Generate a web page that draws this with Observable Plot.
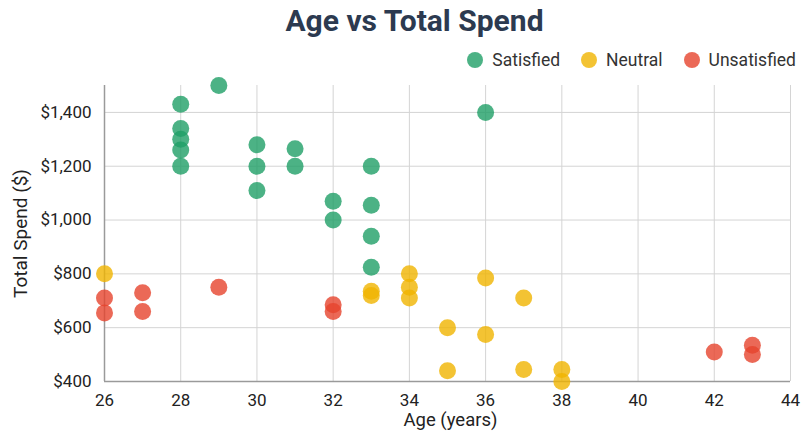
<!DOCTYPE html>
<html>
<head>
<meta charset="utf-8">
<script src="https://cdn.jsdelivr.net/npm/d3@7"></script>
<script src="https://cdn.jsdelivr.net/npm/@observablehq/plot@0.6"></script>
<style>
  html, body { margin: 0; padding: 0; background: #fff; }
  body { width: 801px; height: 443px; overflow: hidden; font-family: Roboto, "Noto Sans", sans-serif; }
  #title { height: 44px; line-height: 42px; text-align: center; padding-left: 28px; font-size: 30px; font-weight: 700; color: #2c3a50; }
  #legend { height: 31px; display: flex; justify-content: flex-end; align-items: center; padding-right: 5px; font-size: 17.5px; color: #333; }
  #legend .item { display: flex; align-items: center; margin-left: 21px; }
  #legend .sw { width: 16px; height: 16px; border-radius: 50%; margin-right: 9px; }
  #chart svg { display: block; }
</style>
</head>
<body>
<div id="title">Age vs Total Spend</div>
<div id="legend"></div>
<div id="chart"></div>
<script>
// Customer survey: age against total spend, grouped by satisfaction.
const groups = ["Satisfied", "Neutral", "Unsatisfied"];
const groupColors = ["#1f9f66", "#f0b400", "#e6432d"];

const satisfiedAge   = [28, 28, 28, 28, 28, 29, 30, 30, 30, 31, 31, 32, 32, 33, 33, 33, 33, 36];
const satisfiedSpend = [1430, 1340, 1300, 1260, 1200, 1500, 1280, 1200, 1110, 1265, 1200, 1070, 1000, 1200, 1055, 940, 825, 1400];

const neutralAge   = [26, 33, 33, 34, 34, 34, 35, 35, 36, 36, 37, 37, 38, 38];
const neutralSpend = [800, 735, 720, 800, 750, 710, 600, 440, 785, 575, 710, 445, 445, 400];

const unsatisfiedAge   = [26, 26, 27, 27, 29, 32, 32, 42, 43, 43];
const unsatisfiedSpend = [710, 655, 730, 660, 750, 685, 660, 510, 535, 500];

const xTicks = [26, 28, 30, 32, 34, 36, 38, 40, 42, 44];
const yTicks = [400, 600, 800, 1000, 1200, 1400];

const rows = [
  ...satisfiedAge.map((a, i) => ({age: a, spend: satisfiedSpend[i], group: groups[0]})),
  ...neutralAge.map((a, i) => ({age: a, spend: neutralSpend[i], group: groups[1]})),
  ...unsatisfiedAge.map((a, i) => ({age: a, spend: unsatisfiedSpend[i], group: groups[2]}))
];

// HTML legend above the plot
const legend = document.getElementById("legend");
groups.forEach((g, i) => {
  const item = document.createElement("div");
  item.className = "item";
  const sw = document.createElement("span");
  sw.className = "sw";
  sw.style.background = groupColors[i];
  sw.style.opacity = 0.8;
  item.appendChild(sw);
  item.appendChild(document.createTextNode(g));
  legend.appendChild(item);
});

const money = d3.format("$,");

const plot = Plot.plot({
  width: 801,
  height: 368,
  marginTop: 10,
  marginLeft: 104,
  marginRight: 11,
  marginBottom: 62,
  style: {fontFamily: "Roboto, 'Noto Sans', sans-serif", fontSize: "17px", color: "#222", background: "#fff"},
  x: {domain: [26, 44], ticks: xTicks, label: null},
  y: {domain: [400, 1500], ticks: yTicks, label: null, tickFormat: money},
  color: {domain: groups, range: groupColors},
  marks: [
    Plot.gridX(xTicks, {stroke: "#d4d4d4", strokeOpacity: 1}),
    Plot.gridY(yTicks, {stroke: "#d4d4d4", strokeOpacity: 1}),
    Plot.ruleX([26], {stroke: "#9a9a9a", strokeWidth: 1.5}),
    Plot.ruleY([400], {stroke: "#9a9a9a", strokeWidth: 1.5}),
    Plot.axisX({ticks: xTicks, tickSize: 0, tickPadding: 12, fontSize: 17, label: null}),
    Plot.axisY({ticks: yTicks, tickSize: 0, tickPadding: 13, fontSize: 17, tickFormat: money, label: null}),
    Plot.text(["Age (years)"], {frameAnchor: "bottom", dx: 3, dy: 44, fontSize: 18.5, fill: "#222"}),
    Plot.text(["Total Spend ($)"], {frameAnchor: "left", textAnchor: "middle", dx: -84, rotate: -90, fontSize: 19, fill: "#222"}),
    Plot.dot(rows, {x: "age", y: "spend", fill: "group", r: 8.5, fillOpacity: 0.8, stroke: "none"})
  ]
});

document.getElementById("chart").appendChild(plot);
</script>
</body>
</html>
